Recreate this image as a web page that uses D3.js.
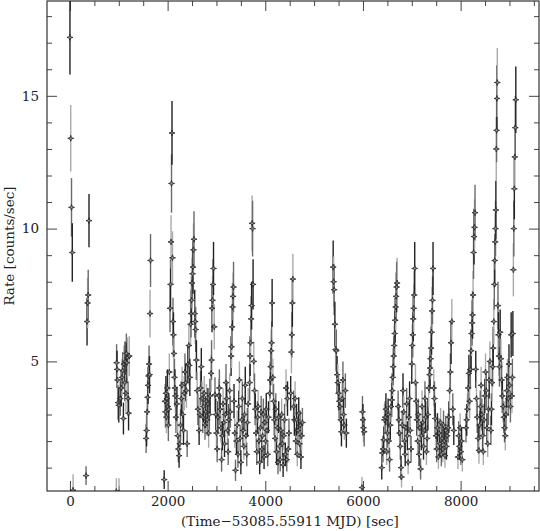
<!DOCTYPE html>
<html>
<head>
<meta charset="utf-8">
<script src="https://cdn.jsdelivr.net/npm/d3@7"></script>
<style>
body { margin: 0; background: #fff; }
svg { display: block; }
text { font-family: "DejaVu Serif", serif; font-size: 13.5px; fill: #222; }
</style>
</head>
<body>
<div id="chart"></div>
<script>
// light curve bins: time since 53085.55911 MJD [s]
var times = [
  0, 16, 32, 48, 64,
  330, 350, 362, 374, 390,
  950, 955, 965, 975, 985, 1000, 1005, 1030, 1050, 1065, 1080, 1095, 1105, 1120, 1130, 1145, 1155, 1165, 1180, 1190, 1200, 1215,
  1560, 1570, 1580, 1590, 1600, 1610, 1620, 1630, 1640, 1650,
  1930, 1945, 1955, 1965, 1975, 1985, 1995, 2005, 2015, 2025, 2035, 2050, 2060, 2070, 2080, 2090, 2100, 2110, 2120, 2130, 2140, 2150, 2160, 2170,
  2190, 2205, 2220, 2235, 2250, 2265, 2280, 2295, 2310, 2325, 2340, 2355, 2370, 2385, 2400, 2415,
  2435, 2445, 2455, 2470, 2480, 2490, 2500, 2510, 2520, 2530, 2540, 2555, 2565, 2575, 2590, 2605, 2620,
  2645, 2660, 2675, 2690, 2705, 2720, 2735, 2750, 2765, 2780, 2795, 2810, 2825, 2840, 2855, 2870,
  2890, 2900, 2910, 2920, 2930, 2940, 2955, 2970, 2985,
  3000, 3015, 3030, 3045, 3060, 3075, 3090, 3105, 3120, 3135, 3150, 3165, 3180, 3195, 3210, 3225, 3240, 3255, 3270, 3285,
  3300, 3310, 3320, 3330, 3340, 3350, 3360, 3375, 3390,
  3410, 3425, 3440, 3455, 3470, 3485, 3500, 3515, 3530, 3545, 3560, 3575, 3590, 3605, 3620, 3635, 3650,
  3680, 3690, 3700, 3710, 3720, 3730, 3740, 3750, 3765, 3780, 3795, 3810,
  3825, 3840, 3855, 3870, 3885, 3900, 3915, 3930, 3945, 3960, 3975, 3990, 4005, 4020, 4035, 4050, 4065,
  4090, 4100, 4110, 4120, 4130, 4140, 4155, 4170, 4185, 4200, 4215,
  4230, 4245, 4260, 4275, 4290, 4305, 4320, 4335, 4350, 4365, 4380, 4395, 4410, 4425, 4440, 4455, 4470, 4485,
  4520, 4535, 4545, 4555, 4565, 4580, 4595, 4610,
  4625, 4640, 4655, 4670, 4685, 4700, 4715, 4730, 4745, 4760,
  5390, 5400, 5410, 5425, 5440, 5455, 5470, 5485, 5500, 5515, 5530, 5545, 5560, 5575, 5590, 5605, 5620, 5640, 5660,
  5980, 5990, 6000, 6010, 6025,
  6385, 6395, 6410, 6425, 6440, 6455, 6470, 6485, 6500, 6515, 6530, 6545, 6560, 6575,
  6590, 6600, 6610, 6620, 6630, 6640, 6650, 6660, 6670, 6680, 6690, 6700,
  6720, 6735, 6750, 6765, 6780, 6790, 6805, 6820, 6835, 6850, 6865, 6880, 6895, 6910, 6925, 6940, 6955, 6970, 6985,
  7000, 7010, 7020, 7030, 7040, 7050, 7060, 7075, 7090, 7105,
  7120, 7135, 7150, 7165, 7180, 7195, 7210, 7225, 7240, 7255, 7270, 7285, 7300, 7315, 7330, 7345,
  7365, 7375, 7385, 7395, 7405, 7415, 7425, 7435, 7450, 7465, 7480, 7495, 7510, 7525,
  7545, 7560, 7575, 7590, 7605, 7620, 7635, 7650, 7665, 7680, 7695, 7710, 7725,
  7745, 7760, 7775, 7790, 7805, 7820, 7840, 7860,
  7945, 7960, 7975, 7990, 8005, 8020, 8035,
  8110, 8125, 8140, 8155, 8170, 8185, 8200, 8215, 8225, 8235, 8245, 8255, 8265, 8275, 8285, 8295, 8310, 8325, 8340,
  8360, 8375, 8390, 8405, 8420, 8435, 8450, 8465, 8480, 8495, 8510, 8525, 8540, 8555, 8570, 8585, 8600,
  8620, 8632, 8644, 8656, 8668, 8680, 8690, 8700, 8708, 8715, 8722, 8730, 8737, 8744, 8751, 8765, 8775, 8785, 8795,
  8810, 8825, 8840, 8855, 8870, 8885, 8900, 8915, 8930, 8945, 8960, 8975, 8990, 9005, 9020, 9035,
  9050, 9060, 9070, 9080, 9090, 9100, 9110, 9120, 9130
];

// count rate [counts/sec]
var rates = [
  17.2, 13.4, 10.8, 9.1, 0.15,
  0.7, 6.5, 7.2, 7.5, 10.3,
  0.1, 4.95, 4.7, 4.3, 3.45, 3.35, 0.05, 3.6, 4.0, 4.4, 4.65, 2.85, 4.9, 4.2, 5.0, 3.8, 5.3, 4.95, 5.15, 3.6, 3.05, 5.2,
  2.1, 2.4, 3.1, 3.65, 4.1, 4.45, 4.9, 4.5, 6.8, 8.8,
  0.55, 3.5, 3.1, 3.8, 2.9, 3.6, 4.0, 3.3, 2.6, 3.2, 4.6, 7.0, 7.9, 9.5, 11.7, 13.6, 8.9, 6.5, 6.0, 5.3, 4.4, 4.0, 3.7, 2.9,
  3.4, 2.2, 1.7, 1.45, 1.9, 2.6, 3.6, 4.1, 3.0, 2.4, 3.8, 4.6, 4.2, 3.9, 1.9, 4.9,
  5.6, 4.85, 4.4, 6.4, 6.8, 7.3, 7.95, 8.3, 8.55, 9.2, 9.6, 6.8, 6.5, 6.2, 5.05, 3.9, 3.2,
  2.4, 3.0, 4.0, 4.8, 3.6, 2.9, 3.3, 3.8, 2.6, 3.1, 3.5, 2.8, 3.4, 2.3, 3.0, 3.7,
  4.55, 5.05, 7.0, 7.3, 7.9, 8.5, 6.3, 3.75, 3.0,
  2.3, 1.7, 2.9, 3.7, 4.0, 3.2, 2.5, 1.3, 2.2, 3.4, 2.7, 1.9, 3.0, 4.2, 3.6, 2.4, 1.6, 2.8, 3.9, 3.1,
  5.2, 5.55, 6.3, 7.05, 7.45, 7.8, 3.5, 2.3, 0.9,
  2.0, 2.6, 1.5, 3.3, 4.3, 2.1, 1.2, 2.8, 3.6, 2.4, 1.8, 3.0, 4.1, 2.2, 1.5, 2.7, 3.4,
  4.2, 5.2, 5.7, 6.6, 7.1, 10.2, 10.0, 7.9, 5.0, 3.9, 3.2, 2.3,
  1.6, 2.9, 3.3, 2.0, 1.2, 2.5, 3.1, 1.7, 2.2, 3.0, 1.4, 2.7, 2.0, 3.2, 2.4, 1.5, 2.9,
  3.8, 4.3, 4.8, 5.4, 5.7, 7.2, 4.4, 3.5, 2.8, 2.1, 3.2,
  1.6, 2.5, 1.2, 2.9, 1.8, 1.3, 2.4, 3.0, 1.9, 1.1, 2.2, 2.8, 1.5, 4.0, 1.3, 3.6, 1.7, 2.3,
  3.8, 5.35, 6.0, 7.2, 8.1, 3.3, 2.8, 3.6,
  2.0, 2.8, 1.5, 2.4, 3.05, 1.9, 2.6, 1.4, 2.2, 2.7,
  8.55, 8.0, 7.7, 6.4, 5.45, 5.4, 4.5, 4.2, 3.8, 3.5, 3.3, 2.8, 2.35, 3.6, 4.3, 3.0, 2.6, 3.9, 2.3,
  0.25, 3.1, 2.8, 2.5, 2.35,
  1.0, 1.55, 1.7, 2.05, 2.8, 2.9, 3.2, 1.6, 2.3, 3.0, 2.0, 1.3, 2.6, 3.3,
  3.55, 3.9, 4.4, 4.8, 5.2, 5.6, 6.05, 6.55, 7.05, 7.45, 7.8, 7.95,
  3.3, 2.8, 2.3, 1.8, 1.0, 0.65, 2.6, 3.9, 3.1, 2.0, 1.5, 2.5, 3.4, 2.2, 1.2, 2.9, 3.6, 2.4, 1.7,
  4.9, 5.6, 6.0, 6.6, 7.0, 7.5, 8.5, 4.2, 3.5, 2.8,
  2.0, 3.0, 1.5, 2.5, 0.95, 2.2, 3.3, 2.7, 1.8, 2.4, 3.6, 2.9, 1.6, 2.1, 3.0, 4.0,
  4.5, 4.75, 5.1, 5.5, 6.1, 6.9, 7.3, 8.5, 4.0, 3.6, 2.85, 2.2, 1.7, 2.5,
  1.4, 2.3, 1.9, 2.7, 1.5, 2.1, 1.7, 2.6, 2.0, 1.45, 2.4, 1.8, 2.2,
  2.5, 2.9, 3.9, 4.6, 5.7, 6.5, 3.2, 2.4,
  1.4, 2.2, 1.8, 2.5, 1.6, 2.0, 1.3,
  2.5, 2.8, 3.2, 4.0, 4.55, 3.5, 4.7, 5.4, 6.05, 6.45, 6.75, 7.5, 9.1, 9.7, 10.05, 10.6, 4.7, 3.6, 2.9,
  2.1, 1.65, 2.6, 3.3, 4.1, 3.0, 2.2, 1.6, 2.8, 3.7, 4.6, 3.9, 2.5, 1.9, 3.2, 4.3, 5.0,
  2.4, 3.2, 4.2, 4.8, 5.5, 6.5, 7.9, 8.8, 9.5, 10.0, 10.7, 13.0, 13.7, 14.9, 15.5, 7.1, 6.0, 5.2, 4.8,
  6.1, 5.1, 4.3, 3.7, 3.3, 2.9, 2.5, 2.2, 3.0, 3.9, 4.4, 3.6, 4.9, 4.1, 3.3, 6.0,
  3.7, 4.4, 6.05, 8.45, 10.0, 11.5, 12.7, 13.8, 14.85
];

// 1-sigma error on the rate
var errors = [
  1.4, 1.25, 1.1, 1.1, 0.6,
  0.35, 0.9, 0.95, 0.95, 1.0,
  0.5, 0.7, 0.7, 0.7, 0.65, 0.65, 0.55, 0.65, 0.7, 0.7, 0.7, 0.6, 0.7, 0.7, 0.75, 0.7, 0.75, 0.75, 0.75, 0.65, 0.65, 0.75,
  0.55, 0.6, 0.6, 0.65, 0.7, 0.7, 0.7, 0.7, 0.9, 1.0,
  0.35, 0.65, 0.6, 0.65, 0.6, 0.65, 0.7, 0.6, 0.6, 0.6, 0.7, 0.9, 0.95, 1.0, 1.1, 1.2, 1.0, 0.9, 0.85, 0.8, 0.7, 0.7, 0.65, 0.6,
  0.65, 0.55, 0.5, 0.45, 0.5, 0.6, 0.65, 0.7, 0.6, 0.55, 0.65, 0.7, 0.7, 0.65, 0.5, 0.7,
  0.8, 0.75, 0.7, 0.85, 0.9, 0.9, 0.95, 0.95, 1.0, 1.0, 1.05, 0.9, 0.85, 0.85, 0.75, 0.7, 0.6,
  0.55, 0.6, 0.65, 0.7, 0.65, 0.6, 0.6, 0.65, 0.55, 0.6, 0.65, 0.6, 0.6, 0.55, 0.6, 0.65,
  0.7, 0.75, 0.9, 0.9, 0.95, 1.0, 0.85, 0.65, 0.6,
  0.55, 0.5, 0.6, 0.65, 0.7, 0.6, 0.55, 0.45, 0.55, 0.6, 0.55, 0.5, 0.6, 0.7, 0.65, 0.55, 0.5, 0.6, 0.65, 0.6,
  0.75, 0.8, 0.85, 0.9, 0.9, 0.95, 0.65, 0.55, 0.4,
  0.5, 0.55, 0.5, 0.6, 0.7, 0.5, 0.45, 0.6, 0.65, 0.55, 0.5, 0.6, 0.7, 0.55, 0.45, 0.55, 0.6,
  0.7, 0.75, 0.8, 0.85, 0.9, 1.05, 1.05, 0.95, 0.75, 0.65, 0.6, 0.55,
  0.5, 0.6, 0.6, 0.5, 0.45, 0.55, 0.6, 0.5, 0.55, 0.6, 0.45, 0.55, 0.5, 0.6, 0.55, 0.45, 0.6,
  0.65, 0.7, 0.7, 0.8, 0.8, 0.9, 0.7, 0.65, 0.6, 0.5, 0.6,
  0.5, 0.55, 0.45, 0.6, 0.5, 0.45, 0.55, 0.6, 0.5, 0.45, 0.55, 0.6, 0.45, 0.7, 0.45, 0.65, 0.5, 0.55,
  0.65, 0.8, 0.85, 0.9, 0.95, 0.6, 0.6, 0.65,
  0.5, 0.6, 0.45, 0.55, 0.6, 0.5, 0.55, 0.45, 0.55, 0.55,
  1.0, 0.95, 0.95, 0.85, 0.8, 0.8, 0.7, 0.7, 0.65, 0.65, 0.6, 0.6, 0.55, 0.65, 0.7, 0.6, 0.55, 0.65, 0.55,
  0.4, 0.6, 0.6, 0.55, 0.55,
  0.45, 0.5, 0.5, 0.5, 0.6, 0.6, 0.6, 0.5, 0.55, 0.6, 0.5, 0.45, 0.55, 0.6,
  0.65, 0.65, 0.7, 0.7, 0.75, 0.8, 0.85, 0.85, 0.9, 0.9, 0.95, 0.95,
  0.6, 0.6, 0.55, 0.5, 0.45, 0.4, 0.55, 0.65, 0.6, 0.5, 0.45, 0.55, 0.6, 0.55, 0.45, 0.6, 0.65, 0.55, 0.5,
  0.75, 0.8, 0.85, 0.85, 0.9, 0.9, 1.0, 0.7, 0.65, 0.6,
  0.5, 0.6, 0.45, 0.55, 0.4, 0.55, 0.6, 0.55, 0.5, 0.55, 0.65, 0.6, 0.5, 0.5, 0.6, 0.7,
  0.7, 0.7, 0.75, 0.8, 0.85, 0.9, 0.9, 1.0, 0.7, 0.65, 0.6, 0.55, 0.5, 0.55,
  0.45, 0.55, 0.5, 0.55, 0.45, 0.5, 0.5, 0.55, 0.5, 0.45, 0.55, 0.5, 0.55,
  0.55, 0.6, 0.65, 0.7, 0.8, 0.85, 0.6, 0.55,
  0.45, 0.55, 0.5, 0.55, 0.5, 0.5, 0.45,
  0.55, 0.6, 0.6, 0.7, 0.7, 0.65, 0.7, 0.8, 0.85, 0.85, 0.9, 0.9, 1.0, 1.05, 1.05, 1.05, 0.7, 0.65, 0.6,
  0.55, 0.5, 0.55, 0.6, 0.7, 0.6, 0.55, 0.5, 0.6, 0.65, 0.7, 0.65, 0.55, 0.5, 0.6, 0.7, 0.75,
  0.55, 0.6, 0.7, 0.75, 0.8, 0.85, 0.95, 1.0, 1.05, 1.05, 1.1, 1.2, 1.2, 1.25, 1.3, 0.9, 0.85, 0.75, 0.75,
  0.85, 0.75, 0.7, 0.65, 0.6, 0.6, 0.55, 0.55, 0.6, 0.65, 0.7, 0.65, 0.75, 0.7, 0.6, 0.85,
  0.65, 0.7, 0.85, 1.0, 1.05, 1.15, 1.2, 1.2, 1.25
];

var xTicks = [0, 2000, 4000, 6000, 8000];
var yTicks = [5, 10, 15];
var xTitle = "(Time\u221253085.55911 MJD) [sec]";
var yTitle = "Rate [counts/sec]";

// set the dimensions and margins of the graph
var margin = { top: 1, right: 1, bottom: 40, left: 47 },
    width = 540 - margin.left - margin.right,
    height = 531 - margin.top - margin.bottom;

var svg = d3.select("#chart")
    .append("svg")
    .attr("width", width + margin.left + margin.right)
    .attr("height", height + margin.top + margin.bottom)
    .append("g")
    .attr("transform", "translate(" + margin.left + "," + margin.top + ")");

var x = d3.scaleLinear().domain([-470, 9605]).range([0, width]);
var y = d3.scaleLinear().domain([0.12, 18.57]).range([height, 0]);

var data = times.map(function(t, i) { return { t: t, r: rates[i], e: errors[i], i: i }; });

// minor ticks: every 500 s and every 1 count/s
var xMinor = d3.range(0, 9601, 500).filter(function(v) { return xTicks.indexOf(v) < 0; });
var yMinor = d3.range(1, 19, 1).filter(function(v) { return yTicks.indexOf(v) < 0; });

function styleAxis(g) {
    g.select(".domain").remove();
    g.selectAll(".tick line").attr("stroke", "#444").attr("stroke-width", 1);
    g.selectAll(".tick text").attr("fill", "#222");
}

svg.append("g").attr("transform", "translate(0," + height + ")")
    .call(d3.axisBottom(x).tickValues(xTicks).tickSize(-10).tickPadding(5).tickFormat(d3.format("d")))
    .call(styleAxis);
svg.append("g").attr("transform", "translate(0," + height + ")")
    .call(d3.axisBottom(x).tickValues(xMinor).tickSize(-5).tickFormat(""))
    .call(styleAxis);
svg.append("g")
    .call(d3.axisTop(x).tickValues(xTicks).tickSize(-10).tickFormat(""))
    .call(styleAxis);
svg.append("g")
    .call(d3.axisTop(x).tickValues(xMinor).tickSize(-5).tickFormat(""))
    .call(styleAxis);

svg.append("g")
    .call(d3.axisLeft(y).tickValues(yTicks).tickSize(-10).tickPadding(8).tickFormat(d3.format("d")))
    .call(styleAxis);
svg.append("g")
    .call(d3.axisLeft(y).tickValues(yMinor).tickSize(-5).tickFormat(""))
    .call(styleAxis);
svg.append("g").attr("transform", "translate(" + width + ",0)")
    .call(d3.axisRight(y).tickValues(yTicks).tickSize(-10).tickFormat(""))
    .call(styleAxis);
svg.append("g").attr("transform", "translate(" + width + ",0)")
    .call(d3.axisRight(y).tickValues(yMinor).tickSize(-5).tickFormat(""))
    .call(styleAxis);

svg.append("clipPath").attr("id", "plotclip")
    .append("rect").attr("width", width).attr("height", height);

var barColors = ["#222", "#aaa", "#6a6a6a"];

var plot = svg.append("g").attr("clip-path", "url(#plotclip)");

// error bars
plot.selectAll("line.err")
    .data(data)
    .enter().append("line")
    .attr("class", "err")
    .attr("x1", function(d) { return x(d.t); })
    .attr("x2", function(d) { return x(d.t); })
    .attr("y1", function(d) { return y(d.r - d.e); })
    .attr("y2", function(d) { return y(d.r + d.e); })
    .attr("stroke", function(d) { return barColors[d.i % 3]; })
    .attr("stroke-width", 1.4);

// markers
var star = "M-3,0L-0.7,-0.7L0,-3L0.7,-0.7L3,0L0.7,0.7L0,3L-0.7,0.7Z";
plot.selectAll("path.pt")
    .data(data)
    .enter().append("path")
    .attr("class", "pt")
    .attr("d", star)
    .attr("transform", function(d) { return "translate(" + x(d.t) + "," + y(d.r) + ")"; })
    .attr("fill", "#999")
    .attr("stroke", "#222")
    .attr("stroke-width", 0.8);

// frame
svg.append("rect")
    .attr("width", width).attr("height", height)
    .attr("fill", "none").attr("stroke", "#333").attr("stroke-width", 1.2);

svg.append("text")
    .attr("x", (width / 2) - 3)
    .attr("y", height + 35)
    .attr("text-anchor", "middle")
    .text(xTitle);

svg.append("text")
    .attr("transform", "translate(" + (14 - margin.left) + "," + 245 + ") rotate(-90)")
    .attr("text-anchor", "middle")
    .text(yTitle);
</script>
</body>
</html>
